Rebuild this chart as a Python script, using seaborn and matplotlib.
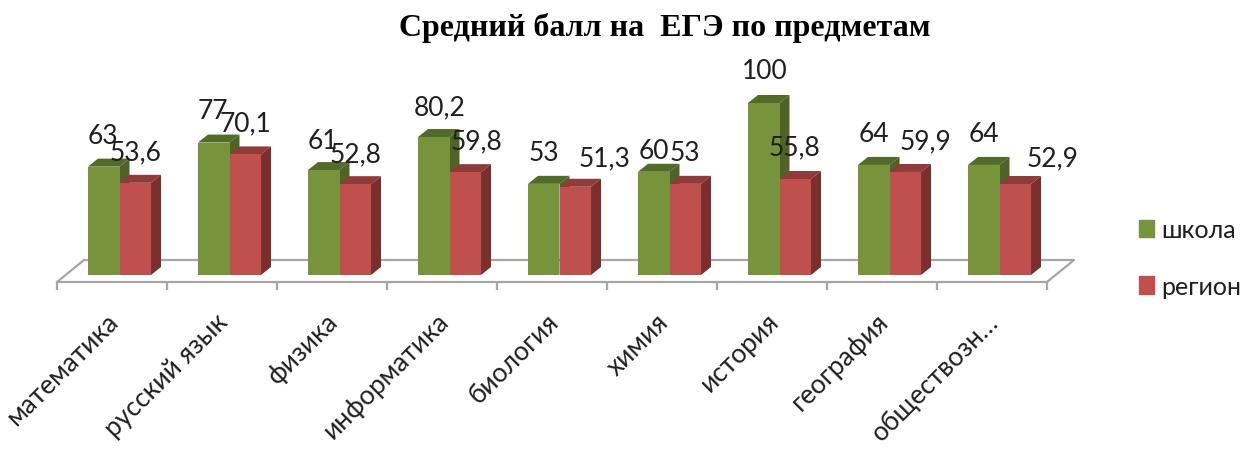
import numpy as np
import pandas as pd
import matplotlib
matplotlib.use("Agg")
import matplotlib.pyplot as plt
import seaborn as sns

# Values
subjects = ["математика", "русский язык", "физика", "информатика", "биология",
            "химия", "история", "география", "обществозн…"]
school = [63, 77, 61, 80.2, 53, 60, 100, 64, 64]
region = [53.6, 70.1, 52.8, 59.8, 51.3, 53, 55.8, 59.9, 52.9]
series_names = ["школа", "регион"]

colors = ["#77933C", "#C0504D"]
top_colors = ["#526A2A", "#8E3B39"]
side_colors = ["#4F6228", "#7B2F2D"]
floor_color = "#A6A6A6"
text_color = "#1F1F1F"

# Label nudges in pixels (the original chart moved some labels around)
school_nudge = [(-1, 31), (-1, 32), (-1, 30), (6, 30), (0, 31), (0, 21), (1, 32), (0, 31), (0, 31)]
region_nudge = [(0, 31), (0, 32), (0, 30), (11, 31), (29, 29), (0, 31), (-1, 32), (20, 31), (37, 26)]

W, H = 1240, 452
DPI = 100

sns.set_theme(style="white")
plt.rcParams["font.family"] = ["Lato", "Open Sans", "DejaVu Sans"]

df = pd.DataFrame({
    "subject": subjects * 2,
    "value": school + region,
    "series": [series_names[0]] * len(subjects) + [series_names[1]] * len(subjects),
})

fig = plt.figure(figsize=(W / DPI, H / DPI), dpi=DPI)
# axes box: left 57, right 1047, zero line at y=276, top at y=61
ax = fig.add_axes([57 / W, 1 - 276 / H, 990 / W, 215 / H])
px_x = 110.0   # pixels per category
px_y = 1.72    # pixels per score point

sns.barplot(data=df, x="subject", y="value", hue="series", palette=colors,
            width=0.573, gap=0, saturation=1, ax=ax, legend=False)

left = -62.5 / px_x
ax.set_xlim(left, left + 990 / px_x)
ax.set_ylim(0, 215 / px_y)
ax.set_xlabel("")
ax.set_ylabel("")
ax.yaxis.set_visible(False)
for s in ["top", "left", "right"]:
    ax.spines[s].set_visible(False)
ax.patch.set_alpha(0)

# front edge of the floor sits a little under the bars
floor_drop = 7
ax.spines["bottom"].set_position(("outward", floor_drop * 72 / DPI))
ax.spines["bottom"].set_color(floor_color)
ax.spines["bottom"].set_linewidth(1.6)

edges = left + np.arange(len(subjects) + 1)
ax.set_xticks(edges, minor=True)
ax.set_xticks(edges[:-1] + 0.44)
ax.set_xticklabels(subjects, rotation=45, ha="right", va="top", rotation_mode="anchor",
                   fontsize=19, color=text_color)
ax.tick_params(axis="x", which="minor", length=6, width=1.6, color=floor_color, bottom=True)
ax.tick_params(axis="x", which="major", length=0, pad=19)

# floor: back edge and the two slanted sides
dx = 27 / px_x
dy = 22 / px_y
y0 = -floor_drop / px_y
xa, xb = ax.get_xlim()
ax.plot([xa, xa + dx, xb + dx, xb], [y0, y0 + dy, y0 + dy, y0], color=floor_color,
        lw=1.6, clip_on=False, zorder=0.5, solid_capstyle="round")

# fake 3d faces on top of the seaborn bars
depth_x = 10 / px_x
depth_y = 8 / px_y
for k, container in enumerate(ax.containers):
    for p in container:
        x, w, h = p.get_x(), p.get_width(), p.get_height()
        p.set_zorder(3)
        p.set_edgecolor("none")
        ax.fill([x, x + depth_x, x + w + depth_x, x + w], [h, h + depth_y, h + depth_y, h],
                color=top_colors[k], lw=0, zorder=2 + k * 0.2, clip_on=False)
        ax.fill([x + w, x + w + depth_x, x + w + depth_x, x + w], [0, depth_y, h + depth_y, h],
                color=side_colors[k], lw=0, zorder=2 + k * 0.2, clip_on=False)

# data labels with decimal commas
for container, values, nudge in zip(ax.containers, [school, region], [school_nudge, region_nudge]):
    for p, v, (nx, ny) in zip(container, values, nudge):
        txt = f"{v:g}".replace(".", ",")
        ax.annotate(txt, (p.get_x() + p.get_width() / 2, p.get_height()),
                    xytext=(nx * 72 / DPI, ny * 72 / DPI), textcoords="offset points",
                    ha="center", va="center", fontsize=19, color=text_color,
                    annotation_clip=False, zorder=5)

# legend
handles = [plt.Rectangle((0, 0), 1, 1, color=c) for c in colors]
fig.legend(handles, series_names, loc="center left", bbox_to_anchor=(1116 / W, 1 - 259 / H),
           frameon=False, fontsize=18, handlelength=0.62, handleheight=0.7,
           handletextpad=0.3, labelspacing=1.35, labelcolor=text_color)

fig.text(665 / W, 1 - 28 / H, "Средний балл на  ЕГЭ по предметам", ha="center", va="center",
         fontsize=23, fontweight="bold", family="Liberation Serif", color="black")

fig.savefig("out.png", dpi=DPI)
